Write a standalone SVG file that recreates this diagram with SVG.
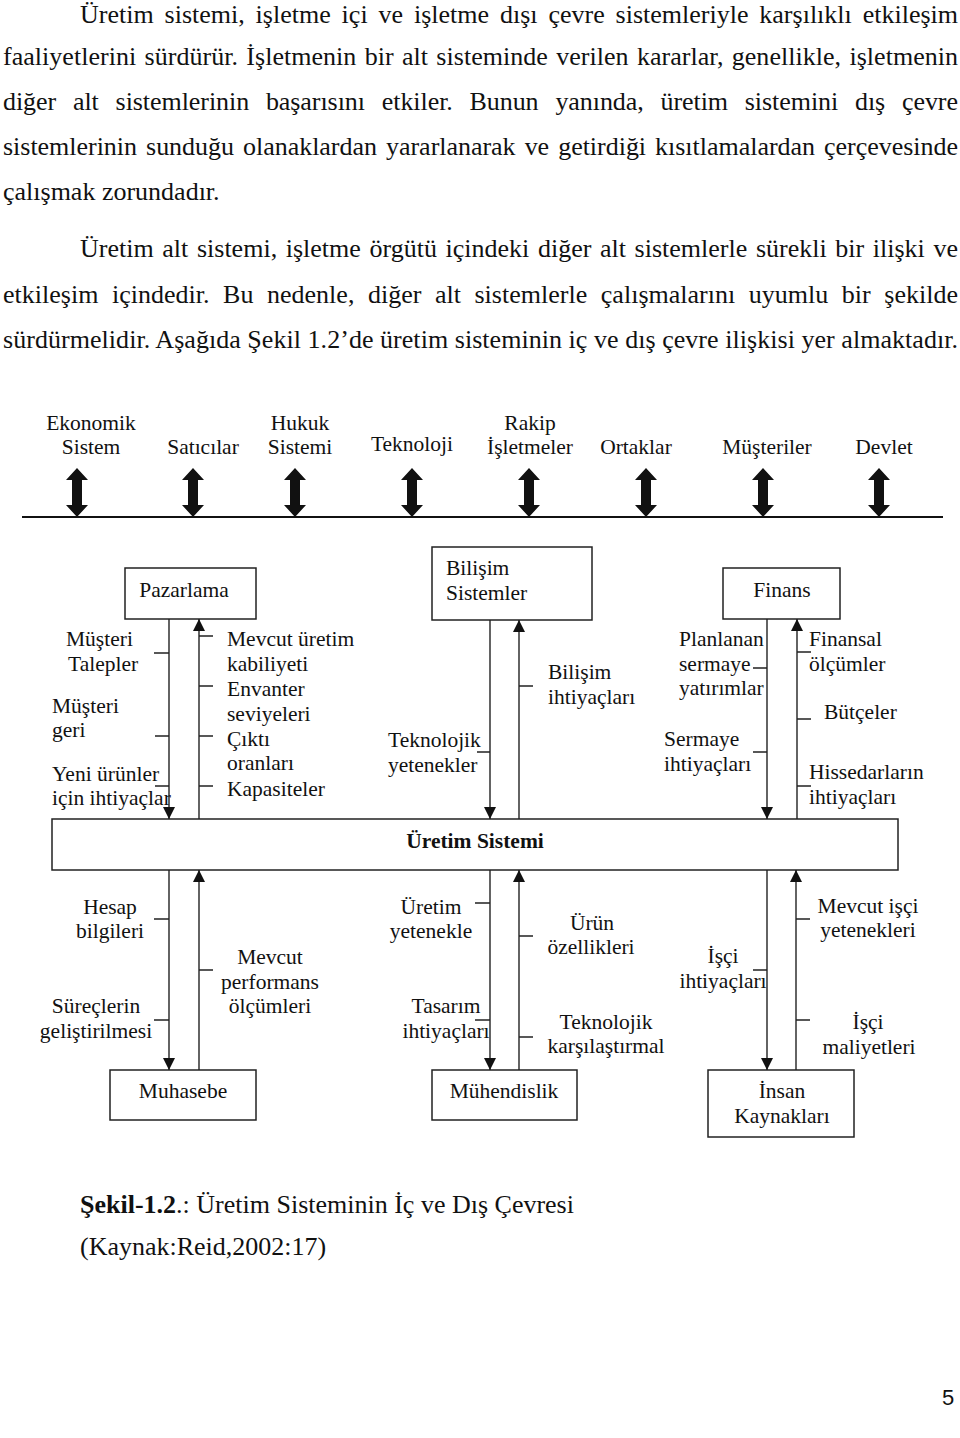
<svg xmlns="http://www.w3.org/2000/svg" width="960" height="1438" viewBox="0 0 960 1438">
<style>
  text { font-family: "Liberation Serif", "Times New Roman", serif; fill: #111; }
  .p { font-size: 26px; }
  .lb { font-size: 21.5px; }
  .m { text-anchor: middle; }
  .b { font-weight: bold; }
  .box { fill: #fff; stroke: #222; stroke-width: 1.5; }
  .ln { fill: none; stroke: #222; stroke-width: 1.4; }
  .arr { marker-end: url(#ah); }
  .base { stroke: #111; stroke-width: 2; }
  .num { font-family: "Liberation Sans", Arial, sans-serif; font-size: 22px; }
</style>
<defs>
  <marker id="ah" markerUnits="userSpaceOnUse" markerWidth="12" markerHeight="12" refX="12" refY="6" orient="auto" viewBox="0 0 12 12">
    <path d="M0,0 L12,6 L0,12 Z" fill="#111"/>
  </marker>
  <path id="dbl" d="M0,0 L11,12 L5,12 L5,37 L11,37 L0,49 L-11,37 L-5,37 L-5,12 L-11,12 Z" fill="#111"/>
</defs>
<rect width="960" height="1438" fill="#fff"/>

<g id="text-body">
  <text class="p" x="80" y="23" word-spacing="4.4" textLength="878" lengthAdjust="spacing">Üretim sistemi, işletme içi ve işletme dışı çevre sistemleriyle karşılıklı etkileşim</text>
  <text class="p" x="3" y="65" word-spacing="1.8" textLength="955" lengthAdjust="spacing">faaliyetlerini sürdürür. İşletmenin bir alt sisteminde verilen kararlar, genellikle, işletmenin</text>
  <text class="p" x="3" y="110" word-spacing="10.4" textLength="955" lengthAdjust="spacing">diğer alt sistemlerinin başarısını etkiler. Bunun yanında, üretim sistemini dış çevre</text>
  <text class="p" x="3" y="155" word-spacing="2.6" textLength="955" lengthAdjust="spacing">sistemlerinin sunduğu olanaklardan yararlanarak ve getirdiği kısıtlamalardan çerçevesinde</text>
  <text class="p" x="3" y="200">çalışmak zorundadır.</text>
  <text class="p" x="80" y="257" word-spacing="2.1" textLength="878" lengthAdjust="spacing">Üretim alt sistemi, işletme örgütü içindeki diğer alt sistemlerle sürekli bir ilişki ve</text>
  <text class="p" x="3" y="303" word-spacing="7" textLength="955" lengthAdjust="spacing">etkileşim içindedir. Bu nedenle, diğer alt sistemlerle çalışmalarını uyumlu bir şekilde</text>
  <text class="p" x="3" y="348" textLength="955" lengthAdjust="spacing">sürdürmelidir. Aşağıda Şekil 1.2’de üretim sisteminin iç ve dış çevre ilişkisi yer almaktadır.</text>
  <text class="p" x="80" y="1213"><tspan class="b">Şekil-1.2</tspan>.: Üretim Sisteminin İç ve Dış Çevresi</text>
  <text class="p" x="80" y="1255">(Kaynak:Reid,2002:17)</text>
  <text class="num m" x="948" y="1405">5</text>
</g>

<g id="env-ekonomik"><text class="lb m" x="91" y="430">Ekonomik</text><text class="lb m" x="91" y="454">Sistem</text></g>
<g id="env-saticilar"><text class="lb m" x="203" y="454">Satıcılar</text></g>
<g id="env-hukuk"><text class="lb m" x="300" y="430">Hukuk</text><text class="lb m" x="300" y="454">Sistemi</text></g>
<g id="env-teknoloji"><text class="lb m" x="412" y="451">Teknoloji</text></g>
<g id="env-rakip"><text class="lb m" x="530" y="430">Rakip</text><text class="lb m" x="530" y="454">İşletmeler</text></g>
<g id="env-ortaklar"><text class="lb m" x="636" y="454">Ortaklar</text></g>
<g id="env-musteriler"><text class="lb m" x="767" y="454">Müşteriler</text></g>
<g id="env-devlet"><text class="lb m" x="884" y="454">Devlet</text></g>

<g id="node-pazarlama"><rect class="box" x="125" y="568" width="131" height="51"/><text class="lb m" x="184" y="597">Pazarlama</text></g>
<g id="node-bilisim"><rect class="box" x="432" y="547" width="160" height="73"/><text class="lb" x="446" y="575">Bilişim</text><text class="lb" x="446" y="600">Sistemler</text></g>
<g id="node-finans"><rect class="box" x="723" y="568" width="117" height="51"/><text class="lb m" x="782" y="597">Finans</text></g>
<g id="node-uretim"><rect class="box" x="52" y="819" width="846" height="51"/><text class="lb m b" x="475" y="848">Üretim Sistemi</text></g>
<g id="node-muhasebe"><rect class="box" x="110" y="1070" width="146" height="50"/><text class="lb m" x="183" y="1098">Muhasebe</text></g>
<g id="node-muhendislik"><rect class="box" x="432" y="1070" width="145" height="50"/><text class="lb m" x="504" y="1098">Mühendislik</text></g>
<g id="node-ik"><rect class="box" x="708" y="1070" width="146" height="67"/><text class="lb m" x="782" y="1098">İnsan</text><text class="lb m" x="782" y="1123">Kaynakları</text></g>

<g id="connectors">
  <line class="base" x1="22" y1="517" x2="943" y2="517"/>
  <use href="#dbl" x="77" y="468"/>
  <use href="#dbl" x="193" y="468"/>
  <use href="#dbl" x="295" y="468"/>
  <use href="#dbl" x="412" y="468"/>
  <use href="#dbl" x="529" y="468"/>
  <use href="#dbl" x="646" y="468"/>
  <use href="#dbl" x="763" y="468"/>
  <use href="#dbl" x="879" y="468"/>

  <line class="ln arr" x1="169" y1="619" x2="169" y2="819"/>
  <line class="ln arr" x1="199" y1="819" x2="199" y2="619"/>
  <line class="ln arr" x1="490" y1="620" x2="490" y2="819"/>
  <line class="ln arr" x1="519" y1="819" x2="519" y2="620"/>
  <line class="ln arr" x1="767" y1="619" x2="767" y2="819"/>
  <line class="ln arr" x1="797" y1="819" x2="797" y2="619"/>

  <line class="ln arr" x1="169" y1="870" x2="169" y2="1070"/>
  <line class="ln arr" x1="199" y1="1070" x2="199" y2="870"/>
  <line class="ln arr" x1="490" y1="870" x2="490" y2="1070"/>
  <line class="ln arr" x1="519" y1="1070" x2="519" y2="870"/>
  <line class="ln arr" x1="767" y1="870" x2="767" y2="1070"/>
  <line class="ln arr" x1="796" y1="1070" x2="796" y2="870"/>

  <path class="ln" d="M154,653H169 M155,736H169 M155,786H169 M199,636H213 M199,686H213 M199,736H213 M199,786H213
    M477,752H490 M519,686H533
    M753,668H767 M753,752H767 M797,652H811 M797,719H811 M797,786H811
    M154,919H169 M154,1020H169 M199,970H213
    M475,903H490 M475,1020H490 M519,936H533 M519,1037H533
    M753,970H767 M796,919H810 M796,1020H810"/>
</g>

<g id="labels">
  <text class="lb" x="66" y="646">Müşteri</text>
  <text class="lb" x="68" y="671">Talepler</text>
  <text class="lb" x="52" y="713">Müşteri</text>
  <text class="lb" x="52" y="737">geri</text>
  <text class="lb" x="52" y="781">Yeni ürünler</text>
  <text class="lb" x="52" y="805">için ihtiyaçlar</text>

  <text class="lb" x="227" y="646">Mevcut üretim</text>
  <text class="lb" x="227" y="671">kabiliyeti</text>
  <text class="lb" x="227" y="696">Envanter</text>
  <text class="lb" x="227" y="721">seviyeleri</text>
  <text class="lb" x="227" y="746">Çıktı</text>
  <text class="lb" x="227" y="770">oranları</text>
  <text class="lb" x="227" y="796">Kapasiteler</text>

  <text class="lb" x="388" y="747">Teknolojik</text>
  <text class="lb" x="388" y="772">yetenekler</text>
  <text class="lb" x="548" y="679">Bilişim</text>
  <text class="lb" x="548" y="704">ihtiyaçları</text>

  <text class="lb" x="679" y="646">Planlanan</text>
  <text class="lb" x="679" y="671">sermaye</text>
  <text class="lb" x="679" y="695">yatırımlar</text>
  <text class="lb" x="664" y="746">Sermaye</text>
  <text class="lb" x="664" y="771">ihtiyaçları</text>
  <text class="lb" x="809" y="646">Finansal</text>
  <text class="lb" x="809" y="671">ölçümler</text>
  <text class="lb" x="824" y="719">Bütçeler</text>
  <text class="lb" x="809" y="779">Hissedarların</text>
  <text class="lb" x="809" y="804">ihtiyaçları</text>

  <text class="lb m" x="110" y="914">Hesap</text>
  <text class="lb m" x="110" y="938">bilgileri</text>
  <text class="lb m" x="96" y="1013">Süreçlerin</text>
  <text class="lb m" x="96" y="1038">geliştirilmesi</text>
  <text class="lb m" x="270" y="964">Mevcut</text>
  <text class="lb m" x="270" y="989">performans</text>
  <text class="lb m" x="270" y="1013">ölçümleri</text>

  <text class="lb m" x="431" y="914">Üretim</text>
  <text class="lb m" x="431" y="938">yetenekle</text>
  <text class="lb m" x="446" y="1013">Tasarım</text>
  <text class="lb m" x="446" y="1038">ihtiyaçları</text>
  <text class="lb m" x="592" y="930">Ürün</text>
  <text class="lb m" x="591" y="954">özellikleri</text>
  <text class="lb m" x="606" y="1029">Teknolojik</text>
  <text class="lb m" x="606" y="1053">karşılaştırmal</text>

  <text class="lb m" x="723" y="963">İşçi</text>
  <text class="lb m" x="723" y="988">ihtiyaçları</text>
  <text class="lb m" x="868" y="913">Mevcut işçi</text>
  <text class="lb m" x="868" y="937">yetenekleri</text>
  <text class="lb m" x="868" y="1029">İşçi</text>
  <text class="lb m" x="869" y="1054">maliyetleri</text>
</g>
</svg>
